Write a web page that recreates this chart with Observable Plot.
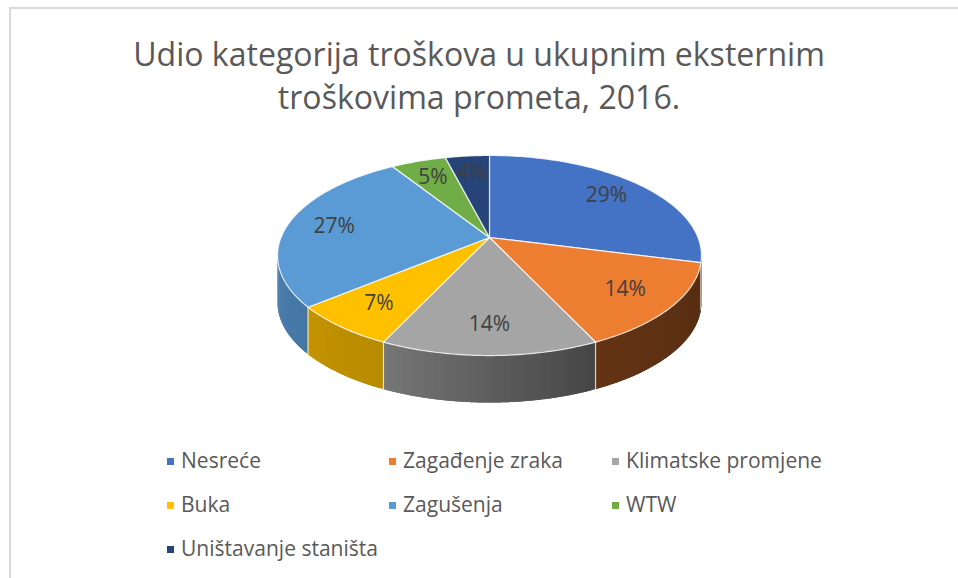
<!DOCTYPE html>
<html>
<head>
<meta charset="utf-8">
<script src="https://cdn.jsdelivr.net/npm/d3@7"></script>
<script src="https://cdn.jsdelivr.net/npm/@observablehq/plot@0.6"></script>
<style>
  html, body { margin: 0; padding: 0; background: #fff; }
  #wrap { position: relative; width: 958px; height: 578px; overflow: hidden; font-family: "Open Sans", sans-serif; }
  #frame { position: absolute; left: 9px; top: 7px; width: 1000px; height: 1000px; border-top: 2px solid #d9d9d9; border-left: 2px solid #d9d9d9; }
  .tline { position: absolute; left: 0; width: 958px; text-align: center; color: #595959; line-height: 1; white-space: nowrap; }
  #chart { position: absolute; left: 0; top: 130px; }
  .leg { position: absolute; color: #595959; line-height: 1; white-space: nowrap; display: flex; align-items: center; }
  .sw { width: 7px; height: 7px; margin-right: 7px; flex: none; }
</style>
</head>
<body>
<div id="wrap">
  <div id="frame"></div>
  <div id="t1" class="tline"></div>
  <div id="t2" class="tline"></div>
  <div id="chart"></div>
  <div id="legend"></div>
</div>
<script>
// ---- data ----
const categories = ["Nesreće", "Zagađenje zraka", "Klimatske promjene", "Buka", "Zagušenja", "WTW", "Uništavanje staništa"];
const values = [29, 14, 14, 7, 27, 5, 4];
const labels = ["29%", "14%", "14%", "7%", "27%", "5%", "4%"];
const colors = ["#4472C4", "#ED7D31", "#A5A5A5", "#FFC000", "#5B9BD5", "#70AD47", "#264478"];
const titleLines = ["Udio kategorija troškova u ukupnim eksternim", "troškovima prometa, 2016."];

// ---- title ----
const canvas = document.createElement("canvas");
const ctx = canvas.getContext("2d");
function fitSize(text, target, family) {
  ctx.font = `100px ${family}`;
  return 100 * target / ctx.measureText(text).width;
}
const tSize = fitSize(titleLines[0], 692, '"Open Sans"');
const t1 = document.getElementById("t1"), t2 = document.getElementById("t2");
t1.textContent = titleLines[0]; t2.textContent = titleLines[1];
t1.style.fontSize = t2.style.fontSize = tSize + "px";
t1.style.top = (66 - 0.888 * tSize) + "px";
t2.style.top = (109 - 0.888 * tSize) + "px";

// ---- 3D pie geometry ----
const k = 0.18;          // perspective factor
const H = 47 / 96.8;     // wall thickness in y units
const total = d3.sum(values);
const rad = d => d * Math.PI / 180;
function proj(r, deg) {
  const a = rad(deg), u = r * Math.sin(a), v = r * Math.cos(a), w = 1 + k * v;
  return {X: u / w, Y: v / w};
}
const slices = [];
let acc = 0;
values.forEach((v, i) => {
  const start = acc / total * 360;
  acc += v;
  const end = acc / total * 360;
  slices.push({i, start, end, mid: (start + end) / 2, color: colors[i], label: labels[i], name: categories[i]});
});

// top faces
const topPts = [];
for (const s of slices) {
  topPts.push({id: s.i, ...proj(0, 0), color: s.color});
  const n = Math.max(2, Math.ceil(s.end - s.start));
  for (let j = 0; j <= n; j++) {
    const a = s.start + (s.end - s.start) * j / n;
    topPts.push({id: s.i, ...proj(1, a), color: s.color});
  }
}

// side walls (visible front part), drawn as overlapping thin strips for a smooth shade
const aL = Math.acos(-k) * 180 / Math.PI;  // right silhouette
const aR = 360 - aL;                        // left silhouette
const shade = d3.scaleLinear().domain([100, 155, 205, 260]).range([0.36, 0.42, 0.72, 0.82]).clamp(true);
const wallPts = [];
let wid = 0;
for (const s of slices) {
  const s0 = Math.max(s.start, aL), s1 = Math.min(s.end, aR);
  if (s0 >= s1) continue;
  const n = Math.max(1, Math.ceil((s1 - s0) * 1.5));
  for (let j = 0; j < n; j++) {
    const a0 = s0 + (s1 - s0) * j / n;
    const a1 = Math.min(s1, s0 + (s1 - s0) * (j + 1) / n + 0.8);
    const m = shade(s0 + (s1 - s0) * (j + 0.5) / n);
    const c = d3.rgb(s.color);
    const col = d3.rgb(c.r * m, c.g * m, c.b * m).formatHex();
    const steps = 3;
    wid++;
    for (let q = 0; q <= steps; q++) {
      const p = proj(1, a0 + (a1 - a0) * q / steps);
      wallPts.push({id: wid, X: p.X, Y: p.Y, color: col});
    }
    for (let q = steps; q >= 0; q--) {
      const p = proj(1, a0 + (a1 - a0) * q / steps);
      wallPts.push({id: wid, X: p.X, Y: p.Y - H, color: col});
    }
  }
}
const wallEdges = slices.filter(s => s.start > aL && s.start < aR).map(s => {
  const p = proj(1, s.start);
  return {X: p.X, Y1: p.Y, Y2: p.Y - H};
});
const labelPts = slices.map(s => ({...proj(0.77, s.mid), label: s.label}));

const W = 958, HT = 310, cx = 489, cy = 107, sx = 208.5, sy = 96.8;
const chart = Plot.plot({
  width: W, height: HT, margin: 0,
  style: {fontFamily: '"Open Sans", sans-serif', background: "transparent"},
  x: {domain: [-cx / sx, (W - cx) / sx], axis: null},
  y: {domain: [(cy - HT) / sy, cy / sy], axis: null},
  color: {type: "identity"},
  marks: [
    Plot.line(wallPts, {x: "X", y: "Y", z: "id", fill: "color", stroke: "none", curve: "linear-closed"}),
    Plot.link(wallEdges, {x1: "X", x2: "X", y1: "Y1", y2: "Y2", stroke: "#ffffff", strokeOpacity: 0.75, strokeWidth: 1.2}),
    Plot.line(topPts, {x: "X", y: "Y", z: "id", fill: "color", stroke: "#ffffff", strokeOpacity: 0.8, strokeWidth: 1.2, curve: "linear-closed"}),
    Plot.text(labelPts, {x: "X", y: "Y", text: "label", fill: "#404040", fontSize: 21})
  ]
});
document.getElementById("chart").appendChild(chart);

// ---- legend ----
const legFont = fitSize("Klimatske promjene", 196, '"Open Sans"');
const legCols = [167, 389, 612];
const legRows = [461, 505, 549];
const legend = document.getElementById("legend");
categories.forEach((name, i) => {
  const d = document.createElement("div");
  d.className = "leg";
  d.style.left = legCols[i % 3] + "px";
  d.style.top = (legRows[Math.floor(i / 3)] - 12) + "px";
  d.style.height = "24px";
  d.style.fontSize = legFont + "px";
  const sw = document.createElement("span");
  sw.className = "sw"; sw.style.background = colors[i];
  const tx = document.createElement("span");
  tx.textContent = name;
  d.appendChild(sw); d.appendChild(tx);
  legend.appendChild(d);
});
</script>
</body>
</html>
